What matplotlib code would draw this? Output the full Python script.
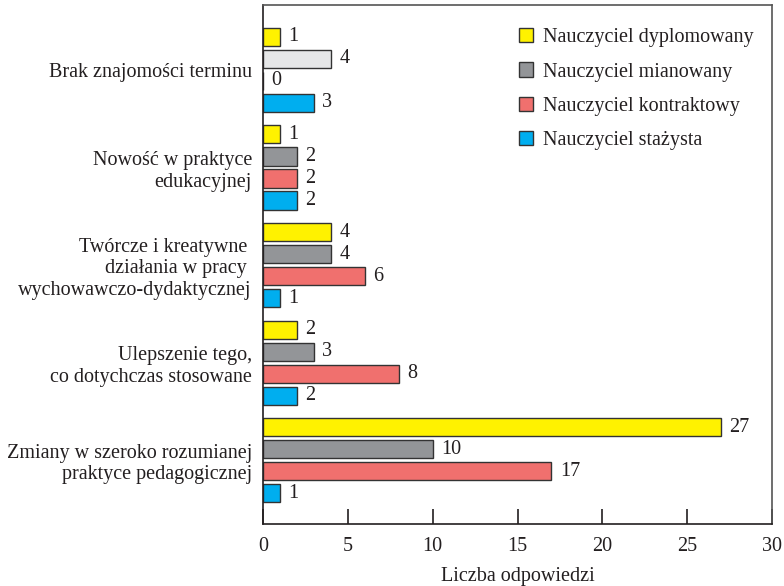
import matplotlib
matplotlib.use("Agg")
import matplotlib.pyplot as plt
import numpy as np

plt.rcParams['font.family'] = ['Liberation Serif', 'DejaVu Serif']

categories = ["Brak znajomości terminu",
              "Nowość w praktyce\nedukacyjnej",
              "Twórcze i kreatywne \ndziałania w pracy \nwychowawczo-dydaktycznej",
              "Ulepszenie tego,\nco dotychczas stosowane",
              "Zmiany w szeroko rozumianej\npraktyce pedagogicznej"]
series_names = ["Nauczyciel dyplomowany", "Nauczyciel mianowany",
                "Nauczyciel kontraktowy", "Nauczyciel stażysta"]
dyplomowany = [1, 1, 4, 2, 27]
mianowany = [4, 2, 4, 3, 10]
kontraktowy = [0, 2, 6, 8, 17]
stazysta = [3, 2, 1, 2, 1]
series = [dyplomowany, mianowany, kontraktowy, stazysta]
colors = ["#FFF200", "#939598", "#F0706E", "#00AEEF"]
x_ticks = [0, 5, 10, 15, 20, 25, 30]

FS = 14.5
fig = plt.figure(figsize=(7.84, 5.86), dpi=100)
ax = fig.add_axes([0.3355, 0.1058, 0.6492, 0.8857])

group_pitch = 4.43
bar_h = 0.82
for k, (vals, col, name) in enumerate(zip(series, colors, series_names)):
    ys = np.arange(len(categories)) * group_pitch + k
    fcs = [col] * len(vals)
    if k == 1:
        fcs[0] = "#E6E7E8"
    ax.barh(ys, vals, height=bar_h, color=fcs, edgecolor="#333333",
            linewidth=1.0, label=name)
    for y, v in zip(ys, vals):
        ax.text(v + 0.5, y, str(v), va="center", ha="left", fontsize=FS,
                color="#231F20")

centers = np.arange(len(categories)) * group_pitch + 1.5
ax.set_yticks(centers)
ax.set_yticklabels(categories, fontsize=FS, color="#231F20", linespacing=1.2)
ax.tick_params(axis="y", length=0, pad=8)
ax.set_ylim(22.12, -1.45)
ax.set_xlim(0, 30)
ax.set_xticks(x_ticks)
ax.tick_params(axis="x", direction="in", length=11, width=1.2, labelsize=FS,
               pad=9, labelcolor="#231F20", color="#231F20")
ax.set_xlabel("Liczba odpowiedzi", fontsize=FS, color="#231F20", labelpad=8)
for s in ax.spines.values():
    s.set_linewidth(1.2)
    s.set_color("#231F20")
ax.spines["right"].set_color("#555555")
ax.spines["top"].set_color("#555555")

handles = [plt.Rectangle((0, 0), 1, 1, facecolor=c, edgecolor="#333333", linewidth=1.0)
           for c in colors]
leg = ax.legend(handles, series_names, loc="upper right", frameon=False,
                fontsize=FS, handlelength=0.7, handleheight=0.7,
                handletextpad=0.5, labelspacing=0.75,
                bbox_to_anchor=(1.0, 0.99))
for t in leg.get_texts():
    t.set_color("#231F20")

fig.savefig("out.png", dpi=100)
